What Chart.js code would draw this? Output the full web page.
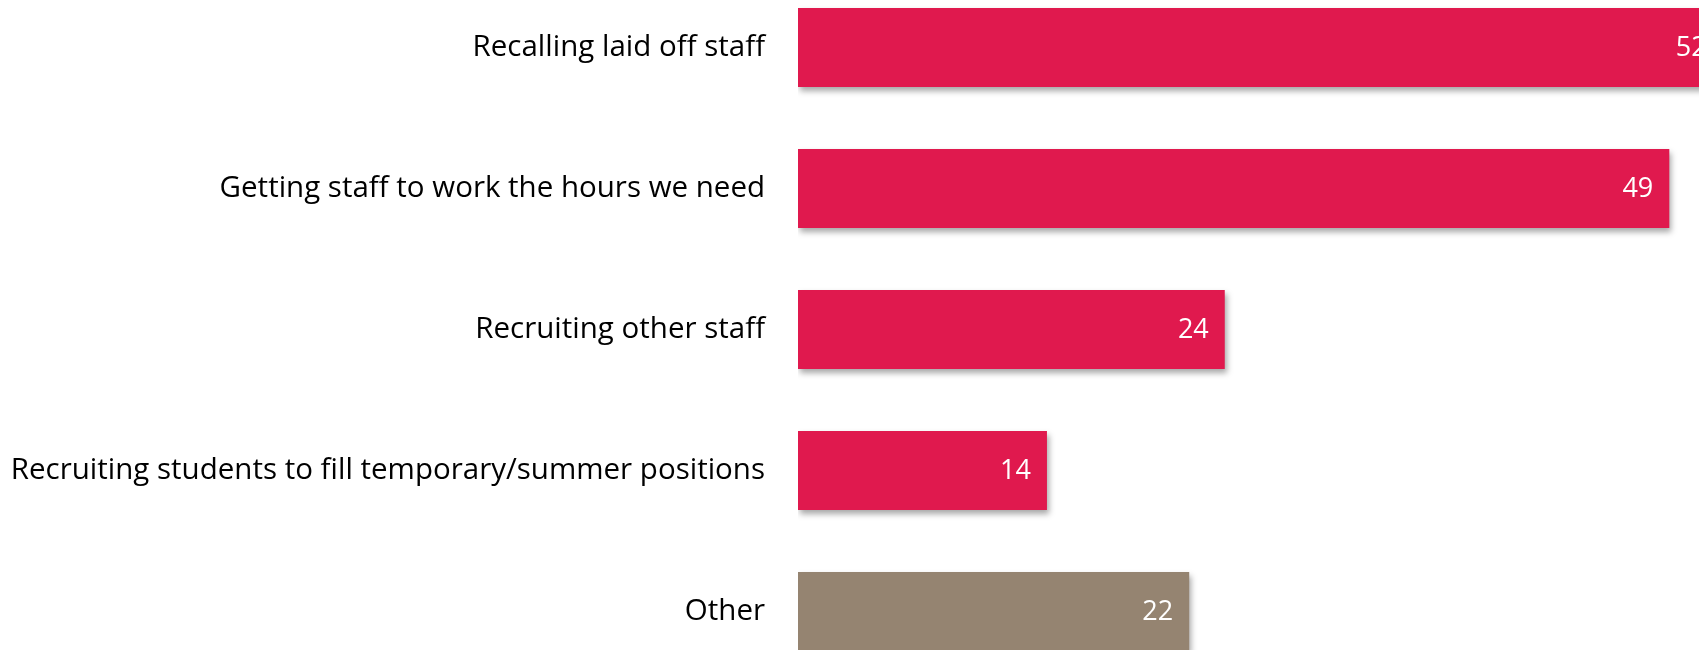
<!DOCTYPE html>
<html>
<head>
<meta charset="utf-8">
<script src="https://cdn.jsdelivr.net/npm/chart.js@4"></script>
<style>
  html, body { margin: 0; padding: 0; background: #fff; overflow: hidden; width: 1699px; height: 650px; }
  #chart { position: absolute; left: 0; top: -23.5px; }
</style>
</head>
<body>
<canvas id="chart" width="1776" height="705"></canvas>
<script>
// categories and values
const categories = [
    'Recalling laid off staff',
    'Getting staff to work the hours we need',
    'Recruiting other staff',
    'Recruiting students to fill temporary/summer positions',
    'Other'
];
const values = [52, 49, 24, 14, 22];
const barColors = ['#E0194E', '#E0194E', '#E0194E', '#E0194E', '#958471'];

const FONT = '"Open Sans", "Noto Sans", sans-serif';

// soft drop shadow under the bars
const shadowPlugin = {
    id: 'barShadow',
    beforeDatasetsDraw(chart) {
        const ctx = chart.ctx;
        ctx.save();
        ctx.shadowColor = 'rgba(0, 0, 0, 0.35)';
        ctx.shadowBlur = 6;
        ctx.shadowOffsetX = 2;
        ctx.shadowOffsetY = 4;
    },
    afterDatasetsDraw(chart) {
        chart.ctx.restore();
    }
};

// white value labels at the end of each bar
const valueLabels = {
    id: 'valueLabels',
    afterDraw(chart) {
        const ctx = chart.ctx;
        const meta = chart.getDatasetMeta(0);
        ctx.save();
        ctx.fillStyle = '#ffffff';
        ctx.font = '27px ' + FONT;
        ctx.textAlign = 'right';
        ctx.textBaseline = 'middle';
        meta.data.forEach((bar, i) => {
            ctx.fillText(String(values[i]), bar.x - 16, bar.y + 1);
        });
        ctx.restore();
    }
};

const ctx = document.getElementById('chart').getContext('2d');
new Chart(ctx, {
    type: 'bar',
    data: {
        labels: categories,
        datasets: [{
            data: values,
            backgroundColor: barColors,
            borderWidth: 0,
            categoryPercentage: 1,
            barPercentage: 0.56
        }]
    },
    options: {
        indexAxis: 'y',
        responsive: false,
        animation: false,
        layout: { padding: 0 },
        plugins: {
            legend: { display: false },
            tooltip: { enabled: false }
        },
        scales: {
            x: {
                display: false,
                min: 0,
                max: 55
            },
            y: {
                afterFit: (scale) => {
                    scale.width = 798;
                    // bands run full height, no extra room for labels
                    scale.paddingTop = 0;
                    scale.paddingBottom = 0;
                },
                grid: { display: false, drawTicks: false },
                border: { display: false },
                ticks: {
                    color: '#000000',
                    padding: 33,
                    font: { family: FONT, size: 29.5 }
                }
            }
        }
    },
    plugins: [shadowPlugin, valueLabels]
});
</script>
</body>
</html>
